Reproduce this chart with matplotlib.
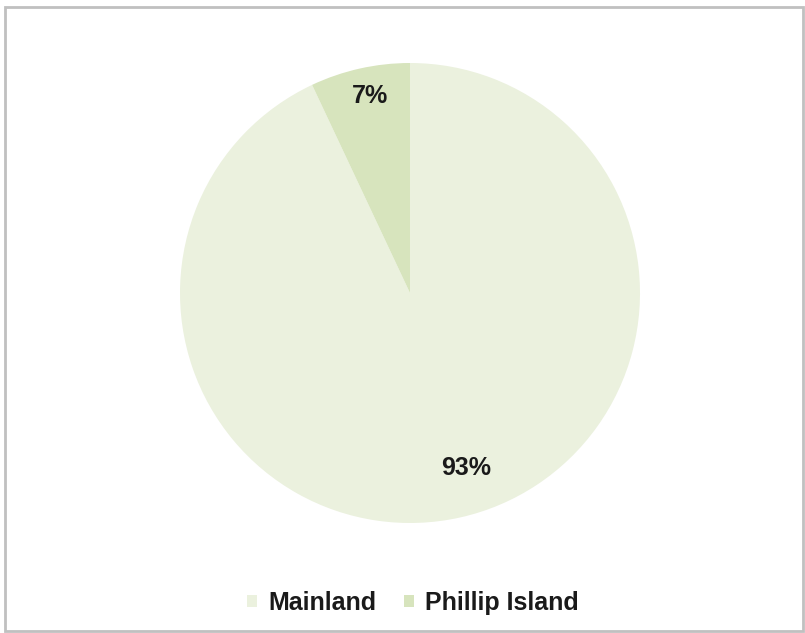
import matplotlib
matplotlib.use("Agg")
import numpy as np
import matplotlib.pyplot as plt
from matplotlib.patches import Patch, Rectangle

categories = ["Mainland", "Phillip Island"]
shares = [93, 7]
colors = ["#EBF1DE", "#D7E4BD"]

plt.rcParams["font.family"] = ["Liberation Sans", "DejaVu Sans"]

W, H = 805, 633
fig = plt.figure(figsize=(W / 100, H / 100), dpi=100)
fig.patch.set_facecolor("white")

# chart area border
fig.add_artist(Rectangle((5 / W, 2 / H), 798 / W, 624 / H, transform=fig.transFigure,
                         fill=False, edgecolor="#C0C0C0", linewidth=2))

cx, cy, r = 410, H - 293, 230
ax = fig.add_axes([(cx - r) / W, (cy - r) / H, 2 * r / W, 2 * r / H])
wedges, texts, autotexts = ax.pie(
    shares, colors=colors, startangle=90, counterclock=False,
    autopct=lambda p: f"{p:.0f}%", pctdistance=0.82,
    wedgeprops=dict(linewidth=0),
    textprops=dict(fontsize=18, fontweight="bold", color="#1A1A1A"),
)

# best-fit style placement of the percentage labels
label_dist = [0.80, 0.875]
angle_shift = [5.3, -1.0]
for w, t, d, s in zip(wedges, autotexts, label_dist, angle_shift):
    ang = np.deg2rad((w.theta1 + w.theta2) / 2 + s)
    t.set_position((d * np.cos(ang), d * np.sin(ang)))

ax.set_xlim(-1, 1)
ax.set_ylim(-1, 1)
ax.set_aspect("equal")
ax.axis("off")

handles = [Patch(facecolor=c, edgecolor="none") for c in colors]
fig.legend(handles, categories, loc="center", bbox_to_anchor=(413 / W, 30 / H),
           ncol=2, frameon=False, handlelength=0.4, handleheight=0.4,
           handletextpad=0.45, columnspacing=1.1,
           prop=dict(size=18, weight="bold"), labelcolor="#1A1A1A")

fig.savefig("out.png", dpi=100, facecolor="white")
